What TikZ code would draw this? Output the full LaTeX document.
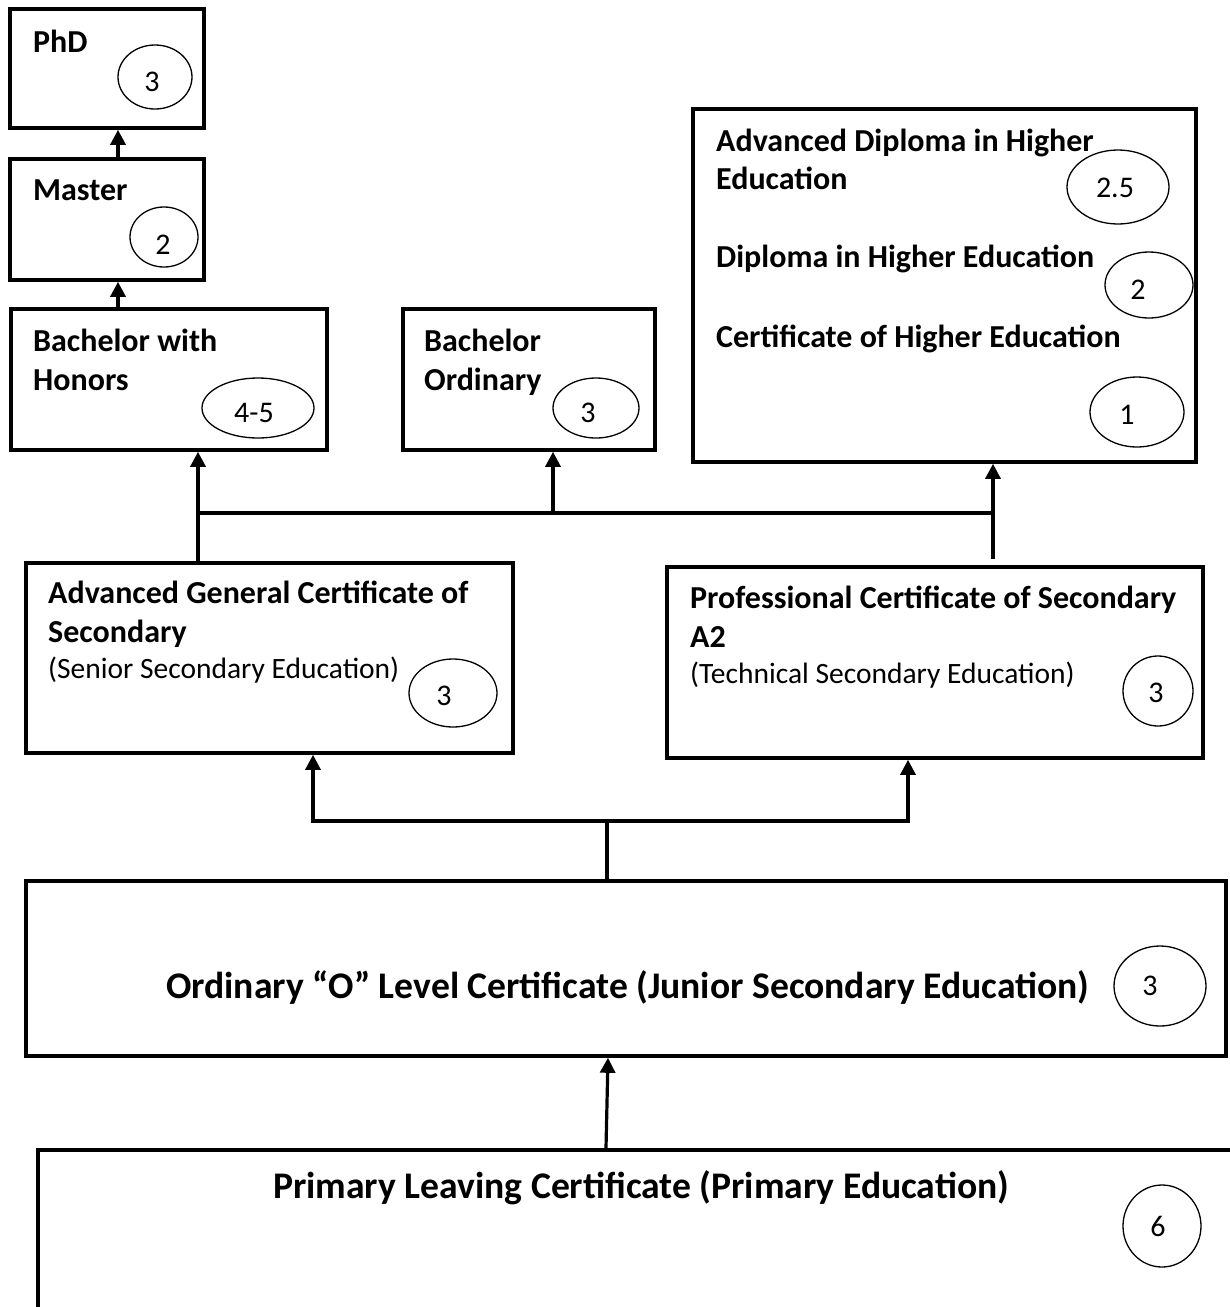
\documentclass[tikz,border=0pt]{standalone}
\usepackage{fontspec}
\setmainfont{Carlito}
\usetikzlibrary{arrows.meta,shapes.geometric,fit}
\begin{document}
\begin{tikzpicture}[x=1pt,y=-1pt,
  box/.style={draw,line width=3.6pt,inner sep=0pt,rectangle},
  ell/.style={draw,ellipse,line width=1.3pt,inner sep=0pt},
  conn/.style={line width=3.2pt},
  tip/.tip={Triangle[width=15pt,length=15pt]},
  arr/.style={conn,-tip},
  lbl/.style={anchor=base west,inner sep=0pt,font=\fontsize{32}{38}\selectfont\bfseries},
  sub/.style={anchor=base west,inner sep=0pt,font=\fontsize{29.5}{35}\selectfont},
  big/.style={anchor=base west,inner sep=0pt,font=\fontsize{37.6}{44}\selectfont\bfseries},
  num/.style={inner sep=0pt,font=\fontsize{30}{36}\selectfont},
]
\useasboundingbox (0,0) rectangle (1230,1307);
\fill[white] (0,0) rectangle (1230,1307);
\clip (0,0) rectangle (1230,1307);

% ---------- boxes ----------
\node[box,fit={(10,9)(204,128)}] (phd) {};
\node[box,fit={(10,159)(204,280)}] (master) {};
\node[box,fit={(11,309)(327,450)}] (hon) {};
\node[box,fit={(403,309)(655,450)}] (ord) {};
\node[box,fit={(693,109)(1196,462)}] (he) {};
\node[box,fit={(26,563)(513,753)}] (agcs) {};
\node[box,fit={(667,567)(1203,758)}] (pcs) {};
\node[box,fit={(26,881)(1226,1056)}] (olev) {};
\node[box,fit={(38,1150)(1262,1345)}] (prim) {};

% ---------- texts ----------
\node[lbl] (tphd) at (33,52) {PhD};
\node[lbl] (tmaster) at (33,200) {Master};
\node[lbl] (thon1) at (33,351) {Bachelor with};
\node[lbl] (thon2) at (33,390) {Honors};
\node[lbl] (tord1) at (424,351) {Bachelor};
\node[lbl] (tord2) at (424,390) {Ordinary};
\node[lbl] (the1) at (716,151) {Advanced Diploma in Higher};
\node[lbl] (the2) at (716,189) {Education};
\node[lbl] (the3) at (716,267) {Diploma in Higher Education};
\node[lbl] (the4) at (716,347) {Certificate of Higher Education};
\node[lbl] (tagcs1) at (48,603) {Advanced General Certificate of};
\node[lbl] (tagcs2) at (48,642) {Secondary};
\node[sub] (tagcs3) at (48,678) {(Senior Secondary Education)};
\node[lbl] (tpcs1) at (690,608) {Professional Certificate of Secondary};
\node[lbl] (tpcs2) at (690,647) {A2};
\node[sub] (tpcs3) at (690,683) {(Technical Secondary Education)};
\node[big] (tolev) at (166,998) {Ordinary “O” Level Certificate (Junior Secondary Education)};
\node[big] (tprim) at (273,1198) {Primary Leaving Certificate (Primary Education)};

% ---------- duration ellipses ----------
\node[ell,minimum width=74pt,minimum height=64pt] (ephd) at (155,77) {};
\node[num] (nphd) at (152,82) {3};
\node[ell,minimum width=68pt,minimum height=60pt] (emaster) at (164,237) {};
\node[num] (nmaster) at (163,245) {2};
\node[ell,minimum width=112pt,minimum height=60pt] (ehon) at (258,408) {};
\node[num] (nhon) at (254,413) {4-5};
\node[ell,minimum width=86pt,minimum height=60pt] (eord) at (596,408) {};
\node[num] (nord) at (588,413) {3};
\node[ell,minimum width=102pt,minimum height=74pt] (ehea) at (1118,187) {};
\node[num] (nhea) at (1115,188) {2.5};
\node[ell,minimum width=88pt,minimum height=66pt] (eheb) at (1149,285) {};
\node[num] (nheb) at (1138,290) {2};
\node[ell,minimum width=94pt,minimum height=70pt] (ehec) at (1137,412) {};
\node[num] (nhec) at (1127,415) {1};
\node[ell,minimum width=88pt,minimum height=68pt] (eagcs) at (453,693) {};
\node[num] (nagcs) at (444,696) {3};
\node[ell,minimum width=70pt,minimum height=70pt] (epcs) at (1158,691) {};
\node[num] (npcs) at (1156,693) {3};
\node[ell,minimum width=92pt,minimum height=80pt] (eolev) at (1160,986) {};
\node[num] (nolev) at (1150,986) {3};
\node[ell,minimum width=78pt,minimum height=82pt] (eprim) at (1162,1226) {};
\node[num] (nprim) at (1158,1226) {6};

% ---------- connectors ----------
\coordinate (xm) at (118,0);
\draw[arr] (xm |- master.north) -- (xm |- phd.south);
\draw[arr] (xm |- hon.north) -- (xm |- master.south);

\coordinate (jt) at (553,513);
\coordinate (xl) at (198,0);
\coordinate (xr) at (993,0);
\draw[arr] (xl |- agcs.north) -- (xl |- hon.south);
\draw[conn] (xl |- jt) -- (xr |- jt);
\draw[arr] (jt) -- (jt |- ord.south);
\draw[arr,shorten <=6pt] (xr |- pcs.north) -- (xr |- he.south);

\coordinate (jb) at (607,821);
\coordinate (xa) at (313,0);
\coordinate (xp) at (908,0);
\draw[conn] (jb |- olev.north) -- (jb);
\draw[conn,tip-tip] (xa |- agcs.south) -- (xa |- jb) -- (xp |- jb) -- (xp |- pcs.south);

\coordinate (xq1) at (606,0);
\coordinate (xq2) at (608,0);
\draw[arr] (xq1 |- prim.north) -- (xq2 |- olev.south);
\end{tikzpicture}
\end{document}
